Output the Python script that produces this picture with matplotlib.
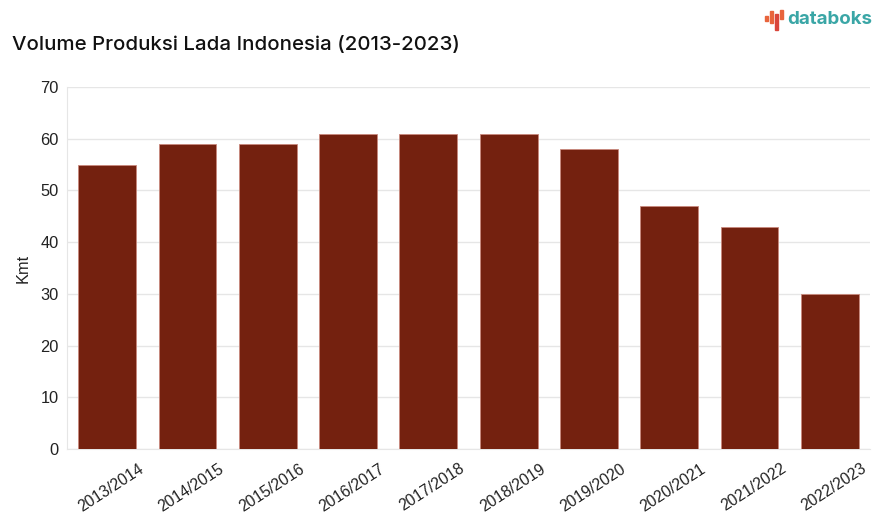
import matplotlib
matplotlib.use("Agg")
import matplotlib.pyplot as plt
from matplotlib.patches import Rectangle
from matplotlib.transforms import ScaledTranslation

categories = ["2013/2014", "2014/2015", "2015/2016", "2016/2017", "2017/2018",
              "2018/2019", "2019/2020", "2020/2021", "2021/2022", "2022/2023"]
values = [55, 59, 59, 61, 61, 61, 58, 47, 43, 30]
yticks = [0, 10, 20, 30, 40, 50, 60, 70]

plt.rcParams['font.family'] = ['Liberation Sans', 'DejaVu Sans']

fig = plt.figure(figsize=(8.75, 5.17), dpi=100)
ax = fig.add_axes([67/875, 1-449/517, (870-67)/875, (449-87)/517])

x = list(range(len(categories)))
ax.bar(x, values, width=0.72, color="#74210f", edgecolor="#c9897d", linewidth=0.6, zorder=3)

ax.set_xlim(-0.5, len(categories) - 0.5)
ax.set_ylim(0, 70)
ax.set_yticks(yticks)
ax.set_xticks(x)
ax.set_xticklabels([])
off = ax.get_xaxis_transform() + ScaledTranslation(4/100, -12/100, fig.dpi_scale_trans)
for xi, lab in zip(x, categories):
    ax.text(xi, 0, lab, transform=off, rotation=33, ha="center", va="top",
            fontsize=11.3, color="#222222")
ax.tick_params(axis="y", labelsize=11.8, colors="#222222", length=0, pad=6)
ax.tick_params(axis="x", length=0)
ax.grid(axis="y", color="#e6e6e6", linewidth=1, zorder=0)
for s in ["top", "right"]:
    ax.spines[s].set_visible(False)
ax.spines["left"].set_color("#e6e6e6")
ax.spines["bottom"].set_color("#e6e6e6")
ax.set_ylabel("Kmt", fontsize=11.8, color="#222222", labelpad=7)

fig.text(12/875, 1-45/517, "Volume Produksi Lada Indonesia (2013-2023)",
         fontsize=14.7, fontweight="medium", color="#111111", va="center", ha="left",
         family=["Inter", "DejaVu Sans"])

# logo
fig.text(787/875, 1-20/517, "databoks", fontsize=13.5, fontweight="bold",
         color="#3aa6a6", va="center", ha="left", family=["Inter", "DejaVu Sans"])
bars = [(765, 16, 5, "#e8643c"), (770, 11, 12, "#e8643c"), (775, 14, 16, "#d9453b"),
        (780, 10, 9, "#e8643c")]
for bx, by, bh, c in bars:
    fig.patches.append(Rectangle((bx/875, 1-(by+bh)/517), 2.5/875, bh/517,
                                 transform=fig.transFigure, color=c))

fig.savefig("out.png", dpi=100)
